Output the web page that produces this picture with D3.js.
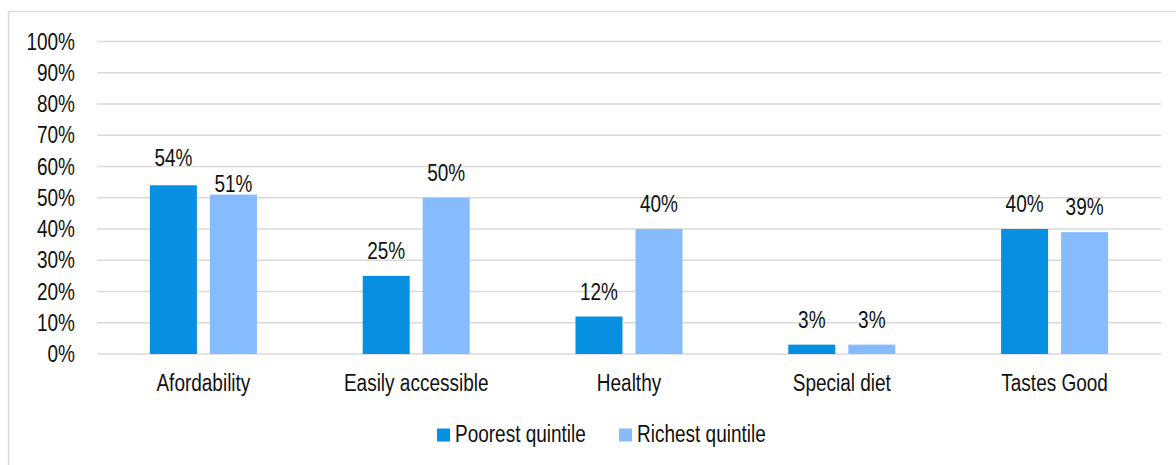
<!DOCTYPE html>
<html>
<head>
<meta charset="utf-8">
<script src="https://cdn.jsdelivr.net/npm/d3@7/dist/d3.min.js"></script>
<style>
  html, body { margin: 0; padding: 0; background: #fff; }
  svg { display: block; }
  text { font-family: "Liberation Sans", Arial, sans-serif; fill: #111; }
</style>
</head>
<body>
<svg id="chart" width="1176" height="465"></svg>
<script>
// Reasons for choosing food, by income quintile (share of respondents)
const categories = ["Afordability", "Easily accessible", "Healthy", "Special diet", "Tastes Good"];
const seriesNames = ["Poorest quintile", "Richest quintile"];
const poorest = [0.54, 0.25, 0.12, 0.03, 0.40];
const richest = [0.51, 0.50, 0.40, 0.03, 0.39];
const yTicks = [0, 0.1, 0.2, 0.3, 0.4, 0.5, 0.6, 0.7, 0.8, 0.9, 1.0];
const colors = ["#0790e1", "#86bbfd"];

const values = [poorest, richest];
const rows = categories.map((c, i) => ({
  category: c,
  items: seriesNames.map((s, k) => ({ series: s, value: values[k][i] }))
}));

const svg = d3.select("#chart");
const FS = 19;        // font size
const SY = 1.23;      // vertical stretch of the lettering

const margin = { left: 97, right: 15, top: 41.5, bottom: 111 };
const W = 1176, H = 465;

// outer frame
svg.append("rect")
  .attr("x", 8.5).attr("y", 11.5)
  .attr("width", W + 10).attr("height", H + 10)
  .attr("fill", "none").attr("stroke", "#d9d9d9").attr("stroke-width", 1.5);

const x0 = d3.scaleBand()
  .domain(categories)
  .range([margin.left, W - margin.right])
  .paddingInner(0).paddingOuter(0);

const pairWidth = 107;
const x1 = d3.scaleBand()
  .domain(seriesNames)
  .range([(x0.bandwidth() - pairWidth) / 2, (x0.bandwidth() + pairWidth) / 2])
  .paddingInner(13 / 60).paddingOuter(0);

const y = d3.scaleLinear().domain([0, 1]).range([H - margin.bottom, margin.top]);

// gridlines
svg.append("g")
  .selectAll("line")
  .data(yTicks)
  .join("line")
  .attr("x1", margin.left).attr("x2", W - margin.right)
  .attr("y1", d => y(d)).attr("y2", d => y(d))
  .attr("stroke", "#d9d9d9").attr("stroke-width", 1.6);

// stretched text helper
function label(g, x, yy, txt, anchor) {
  return g.append("text")
    .attr("transform", `translate(${x},${yy}) scale(1,${SY})`)
    .attr("text-anchor", anchor)
    .attr("font-size", FS)
    .text(txt);
}

// y axis labels
const yAxis = d3.axisLeft(y).tickValues(yTicks).tickFormat(d3.format(".0%")).tickSize(0);
const yg = svg.append("g").attr("transform", `translate(75,0)`).call(yAxis);
yg.select(".domain").remove();
yg.selectAll(".tick text")
  .attr("x", 0).attr("dy", null)
  .attr("font-size", FS)
  .attr("font-family", "Liberation Sans, Arial, sans-serif")
  .attr("fill", "#111")
  .attr("transform", `translate(0,7.5) scale(1,${SY})`);

// bars
const groups = svg.append("g")
  .selectAll("g")
  .data(rows)
  .join("g")
  .attr("transform", d => `translate(${x0(d.category)},0)`);

groups.selectAll("rect")
  .data(d => d.items)
  .join("rect")
  .attr("x", d => x1(d.series))
  .attr("width", x1.bandwidth())
  .attr("y", d => y(d.value))
  .attr("height", d => y(0) - y(d.value))
  .attr("fill", (d, i) => colors[i]);

// value labels; the Afordability pair is spread apart so the two labels don't crowd
const fmt = d3.format(".0%");
function labelGap(cat, series) {
  if (cat === "Afordability") return series === seriesNames[0] ? 19 : 3;
  return 17;
}
groups.each(function(d) {
  const g = d3.select(this);
  d.items.forEach(it => {
    label(g, x1(it.series) + x1.bandwidth() / 2, y(it.value) - labelGap(d.category, it.series), fmt(it.value), "middle");
  });
});

// category labels
const lab = svg.append("g");
categories.forEach(c => {
  label(lab, x0(c) + x0.bandwidth() / 2, 391, c, "middle");
});

// legend
const legend = svg.append("g");
const legendX = [437, 619];
seriesNames.forEach((s, i) => {
  legend.append("rect")
    .attr("x", legendX[i]).attr("y", 428.5)
    .attr("width", 13).attr("height", 13)
    .attr("fill", colors[i]);
  label(legend, legendX[i] + 18, 442, s, "start");
});
</script>
</body>
</html>
